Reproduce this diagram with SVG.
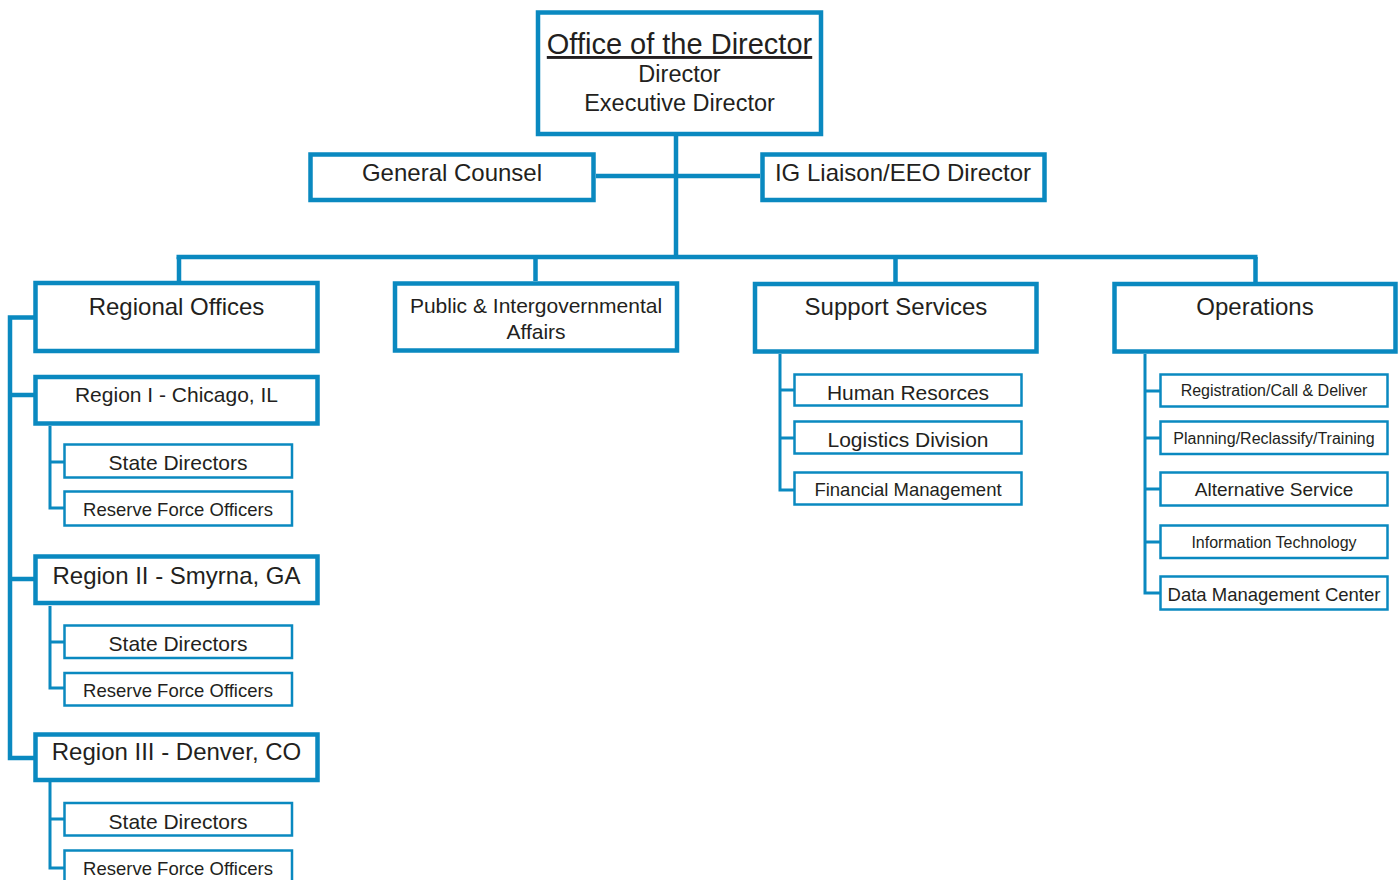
<svg xmlns="http://www.w3.org/2000/svg" width="1398" height="880" viewBox="0 0 1398 880">
<style>
.main{fill:#fff;stroke:#0a89c0;stroke-width:4.5}
.sub{fill:#fff;stroke:#0a89c0;stroke-width:2.5}
.c{fill:none;stroke:#0a89c0;stroke-width:4.5}
.cs{fill:none;stroke:#0a89c0;stroke-width:3}
text{font-family:"Liberation Sans",Arial,sans-serif;fill:#231f20;text-anchor:middle}
</style>
<rect width="1398" height="880" fill="#fff"/>
<g id="connectors">
<path class="c" d="M676,136 V257"/>
<path class="c" d="M596,176 H760"/>
<path class="c" d="M176.5,257 H1257.5"/>
<path class="c" d="M179,257 V281 M535.5,257 V281 M895.5,257 V282 M1255.5,257 V282"/>
<path class="c" d="M35,317.5 H10 V758 H35 M10,395 H35 M10,579 H35"/>
<path class="cs" d="M50,426 V508 H64 M50,462 H64"/>
<path class="cs" d="M50,606 V688 H64 M50,642 H64"/>
<path class="cs" d="M50,782 V868 H64 M50,819 H64"/>
<path class="cs" d="M780,354 V490 H794 M780,390 H794 M780,438 H794"/>
<path class="cs" d="M1145,354 V593 H1160 M1145,391 H1160 M1145,438 H1160 M1145,489 H1160 M1145,542 H1160"/>
</g>
<g id="director">
<rect class="main" x="538" y="12.5" width="283" height="121.5"/>
<text x="679.5" y="54" font-size="29" text-decoration="underline">Office of the Director</text>
<text x="679.5" y="82" font-size="23.5">Director</text>
<text x="679.5" y="111" font-size="23.5">Executive Director</text>
</g>
<g id="general-counsel">
<rect class="main" x="310.5" y="154.5" width="283" height="45.5"/>
<text x="452" y="181" font-size="24">General Counsel</text>
</g>
<g id="ig-liaison">
<rect class="main" x="762.5" y="154.5" width="282" height="45.5"/>
<text x="903" y="181" font-size="24">IG Liaison/EEO Director</text>
</g>
<g id="regional-offices">
<rect class="main" x="35.5" y="283" width="282" height="68"/>
<text x="176.5" y="315" font-size="24">Regional Offices</text>
</g>
<g id="public-affairs">
<rect class="main" x="395" y="283.5" width="282" height="67"/>
<text x="536" y="313" font-size="21">Public &amp; Intergovernmental</text>
<text x="536" y="339" font-size="21">Affairs</text>
</g>
<g id="support-services">
<rect class="main" x="755" y="284" width="281.5" height="67.5"/>
<text x="896" y="315" font-size="24">Support Services</text>
</g>
<g id="operations">
<rect class="main" x="1114.5" y="284" width="281" height="67.5"/>
<text x="1255" y="315" font-size="24">Operations</text>
</g>
<g id="region-1">
<rect class="main" x="35.5" y="377" width="282" height="46.5"/>
<text x="176.5" y="402" font-size="21">Region I - Chicago, IL</text>
</g>
<g id="region-1-state">
<rect class="sub" x="64.5" y="444.5" width="227.5" height="33"/>
<text x="178" y="470" font-size="21">State Directors</text>
</g>
<g id="region-1-reserve">
<rect class="sub" x="64.5" y="491.5" width="227.5" height="34"/>
<text x="178" y="516" font-size="18.5">Reserve Force Officers</text>
</g>
<g id="region-2">
<rect class="main" x="35.5" y="556.5" width="282" height="46.5"/>
<text x="176.5" y="584" font-size="24">Region II - Smyrna, GA</text>
</g>
<g id="region-2-state">
<rect class="sub" x="64.5" y="625.5" width="227.5" height="32.5"/>
<text x="178" y="651" font-size="21">State Directors</text>
</g>
<g id="region-2-reserve">
<rect class="sub" x="64.5" y="673" width="227.5" height="32.5"/>
<text x="178" y="697" font-size="18.5">Reserve Force Officers</text>
</g>
<g id="region-3">
<rect class="main" x="35.5" y="734.5" width="282" height="45.5"/>
<text x="176.5" y="760" font-size="24">Region III - Denver, CO</text>
</g>
<g id="region-3-state">
<rect class="sub" x="64.5" y="803" width="227.5" height="32.5"/>
<text x="178" y="829" font-size="21">State Directors</text>
</g>
<g id="region-3-reserve">
<rect class="sub" x="64.5" y="850.5" width="227.5" height="40"/>
<text x="178" y="875" font-size="18.5">Reserve Force Officers</text>
</g>
<g id="human-resources">
<rect class="sub" x="794.5" y="374.5" width="227" height="31"/>
<text x="908" y="400" font-size="21">Human Resorces</text>
</g>
<g id="logistics">
<rect class="sub" x="794.5" y="421.5" width="227" height="32"/>
<text x="908" y="447" font-size="21">Logistics Division</text>
</g>
<g id="financial">
<rect class="sub" x="794.5" y="472.5" width="227" height="32"/>
<text x="908" y="496" font-size="18.5">Financial Management</text>
</g>
<g id="registration">
<rect class="sub" x="1160.5" y="374.5" width="227" height="32"/>
<text x="1274" y="396" font-size="16">Registration/Call &amp; Deliver</text>
</g>
<g id="planning">
<rect class="sub" x="1160.5" y="421.5" width="227" height="32.5"/>
<text x="1274" y="443.5" font-size="16">Planning/Reclassify/Training</text>
</g>
<g id="alternative-service">
<rect class="sub" x="1160.5" y="472.5" width="227" height="33"/>
<text x="1274" y="496" font-size="19">Alternative Service</text>
</g>
<g id="information-technology">
<rect class="sub" x="1160.5" y="525.5" width="227" height="32.5"/>
<text x="1274" y="548" font-size="16">Information Technology</text>
</g>
<g id="data-management">
<rect class="sub" x="1160.5" y="576.5" width="227" height="33"/>
<text x="1274" y="601" font-size="18.5">Data Management Center</text>
</g>
</svg>
